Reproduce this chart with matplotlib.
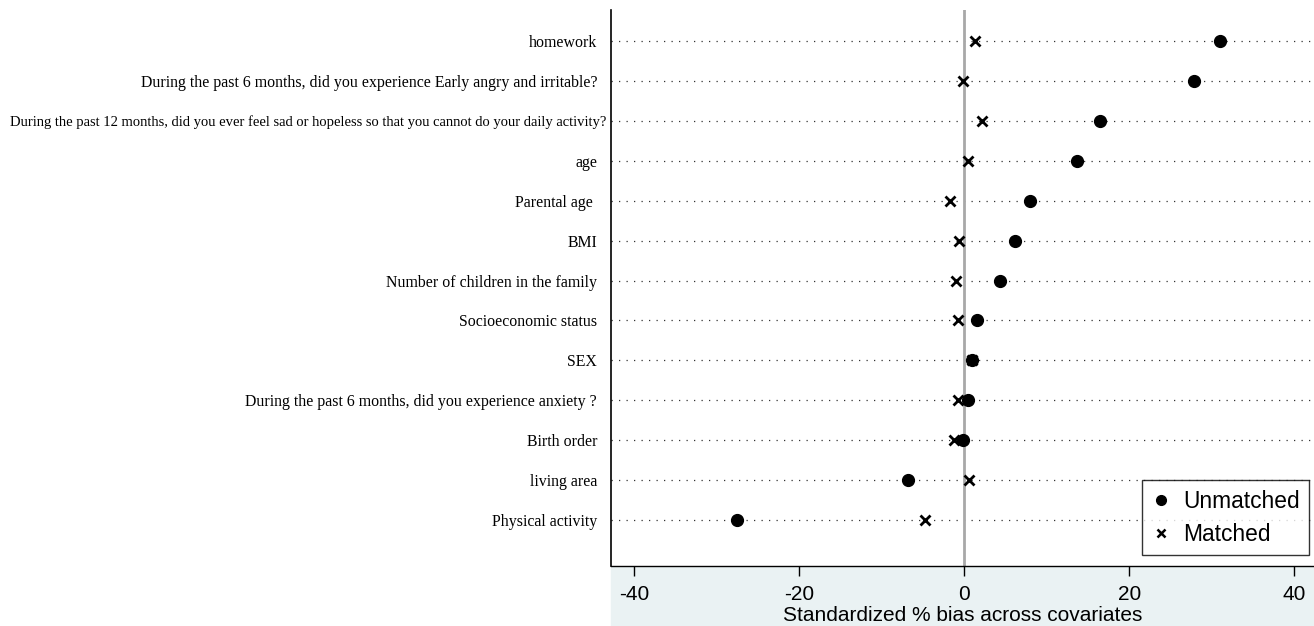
import matplotlib
matplotlib.use('Agg')
import matplotlib.pyplot as plt
from matplotlib.patches import Rectangle
from matplotlib.lines import Line2D
from matplotlib.transforms import ScaledTranslation

# Covariates, top to bottom
covariates = [
    'homework',
    'During the past 6 months, did you experience Early angry and irritable?',
    'During the past 12 months, did you ever feel sad or hopeless so that you cannot do your daily activity?',
    'age',
    'Parental age ',
    'BMI',
    'Number of children in the family',
    'Socioeconomic status',
    'SEX',
    'During the past 6 months, did you experience anxiety ?',
    'Birth order',
    'living area',
    'Physical activity',
]
unmatched = [31.0, 27.8, 16.5, 13.7, 8.0, 6.2, 4.4, 1.5, 1.0, 0.5, -0.1, -6.8, -27.5]
matched = [1.3, -0.1, 2.2, 0.5, -1.7, -0.6, -1.0, -0.8, 0.9, -0.7, -1.2, 0.6, -4.7]
xticks = [-40, -20, 0, 20, 40]

W, H = 1314, 626
fig = plt.figure(figsize=(W / 100, H / 100), dpi=100)
ax_l, ax_r, ax_t, ax_b = 611, 1314, 10, 566
ax = fig.add_axes([ax_l / W, (H - ax_b) / H, (ax_r - ax_l) / W, (ax_b - ax_t) / H])

# light blue band under the plot, behind the tick labels
fig.patches.append(Rectangle((ax_l / W, 0), (ax_r - ax_l) / W, (H - ax_b) / H,
                             transform=fig.transFigure, color='#eaf2f3', zorder=-5))

n = len(covariates)
ypos = list(range(n, 0, -1))

for y in ypos:
    ax.axhline(y, color='#333333', lw=0.9, ls=(0, (1, 5)), zorder=1)
ax.axvline(0, color='#a8a8a8', lw=2, zorder=2)

ax.plot(unmatched, ypos, 'o', color='black', ms=8.5, ls='none', zorder=3)
ax.plot(matched, ypos, 'x', color='black', ms=6.5, mew=2, ls='none', zorder=4)

ax.set_xlim(-42.8, 42.4)
ax.set_ylim(1 - 46 / 40, n + 31 / 40)
ax.set_xticks(xticks)
ax.set_xticklabels([str(t) for t in xticks], family='Liberation Sans', fontsize=15)
ax.tick_params(axis='x', direction='out', length=7, width=1, pad=7)
ax.set_yticks(ypos)
ax.set_yticklabels(covariates, family='Liberation Serif', fontsize=11.4)
ax.tick_params(axis='y', length=0, pad=10)
for lab in ax.get_yticklabels():
    if lab.get_text().startswith('During the past 12'):
        lab.set_fontsize(10.5)
        lab.set_transform(lab.get_transform() + ScaledTranslation(0.09, 0, fig.dpi_scale_trans))

ax.set_xlabel('Standardized % bias across covariates', family='Liberation Sans',
              fontsize=15, labelpad=1)

for s in ['top', 'right']:
    ax.spines[s].set_visible(False)
ax.spines['left'].set_linewidth(1.2)
ax.spines['bottom'].set_linewidth(1)

handles = [Line2D([], [], marker='o', color='black', ls='none', ms=7),
           Line2D([], [], marker='x', color='black', ls='none', ms=5.5, mew=1.8)]
leg = ax.legend(handles, ['Unmatched', 'Matched'], loc='lower right',
                bbox_to_anchor=(0.993, 0.02), borderaxespad=0,
                prop={'family': 'Liberation Sans', 'size': 16.4},
                frameon=True, fancybox=False, edgecolor='black', handlelength=0.8,
                handletextpad=0.6, borderpad=0.4, labelspacing=0.45)
leg.get_frame().set_linewidth(1)

fig.savefig('out.png', dpi=100)
